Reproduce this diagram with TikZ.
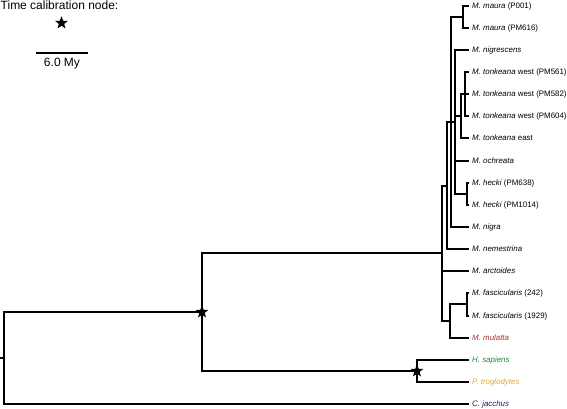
\documentclass[tikz,border=0pt]{standalone}
\usepackage{fontspec}
\setmainfont{Liberation Sans}
\usetikzlibrary{shapes.geometric}
\definecolor{mulattacol}{HTML}{A83232}
\definecolor{sapcol}{HTML}{1E8B3A}
\definecolor{trogcol}{HTML}{E8A82A}
\definecolor{jaccol}{HTML}{1C1C5C}
\begin{document}
\begin{tikzpicture}[x=1pt,y=-1pt,
  br/.style={line width=1.9pt, line join=miter},
  lbl/.style={anchor=west, inner sep=0pt, xshift=3pt, font=\fontsize{7.9}{9}\selectfont},
  big/.style={inner sep=0pt, font=\fontsize{12}{14}\selectfont},
  calstar/.style={star, star points=5, star point ratio=2.4, fill=black, draw=none, inner sep=0pt, minimum size=13.5pt}]
\useasboundingbox (0,0) rectangle (567,408);
% legend
\node[big, anchor=base west] (title) at (0.5,9.3) {Time calibration node:};
\node[calstar] (legstar) at (61.5,23) {};
\coordinate (sbL) at (36,53);
\coordinate (sbR) at (88,53);
\draw[line width=1.8pt] (sbL) -- (sbR);
\node[big, anchor=base] (sblab) at (62,66.7) {6.0 My};
% leaves
\coordinate (l0) at (469,6);
\coordinate (l1) at (469,28);
\coordinate (l2) at (469,50);
\coordinate (l3) at (469,72);
\coordinate (l4) at (469,94);
\coordinate (l5) at (469,116);
\coordinate (l6) at (469,138);
\coordinate (l7) at (469,161);
\coordinate (l8) at (469,183);
\coordinate (l9) at (469,205);
\coordinate (l10) at (469,227);
\coordinate (l11) at (469,249);
\coordinate (l12) at (469,271);
\coordinate (l13) at (469,293);
\coordinate (l14) at (469,316);
\coordinate (l15) at (469,338);
\coordinate (l16) at (469,360);
\coordinate (l17) at (469,382);
\coordinate (l18) at (469,404);
% internal nodes
\coordinate (maura) at (463,17);
\coordinate (tonkW) at (465,94);
\coordinate (tonk) at (461,116);
\coordinate (hecki) at (467,194);
\coordinate (D) at (455,122);
\coordinate (B) at (451,122);
\coordinate (A) at (447,186);
\coordinate (fasc) at (467,304);
\coordinate (FM) at (450,321);
\coordinate (M) at (442,253);
\coordinate (P) at (417,371);
\coordinate (S) at (202,312);
\coordinate (R) at (4,358);
\coordinate (stub) at (0,358);
% branches
\draw[br] (stub) -- (R);
\draw[br] (R) |- (S);
\draw[br] (R) |- (l18);
\draw[br] (S) |- (M);
\draw[br] (S) |- (P);
\draw[br] (P) |- (l16);
\draw[br] (P) |- (l17);
\draw[br] (M) |- (A);
\draw[br] (M) |- (l12);
\draw[br] (M) |- (FM);
\draw[br] (FM) |- (fasc);
\draw[br] (FM) |- (l15);
\draw[br] (fasc) |- (l13);
\draw[br] (fasc) |- (l14);
\draw[br] (A) |- (B);
\draw[br] (A) |- (l11);
\draw[br] (B) |- (maura);
\draw[br] (B) |- (D);
\draw[br] (B) |- (l10);
\draw[br] (maura) |- (l0);
\draw[br] (maura) |- (l1);
\draw[br] (D) |- (l2);
\draw[br] (D) |- (tonk);
\draw[br] (D) |- (l7);
\draw[br] (D) |- (hecki);
\draw[br] (tonk) |- (tonkW);
\draw[br] (tonk) |- (l6);
\draw[br] (tonkW) |- (l3);
\draw[br] (tonkW) |- (l4);
\draw[br] (tonkW) |- (l5);
\draw[br] (hecki) |- (l8);
\draw[br] (hecki) |- (l9);
% calibration stars
\node[calstar] (starS) at (S) {};
\node[calstar] (starP) at (P) {};
% labels
\node[lbl] (t0) at (l0) {\textit{M. maura} (P001)};
\node[lbl] (t1) at (l1) {\textit{M. maura} (PM616)};
\node[lbl] (t2) at (l2) {\textit{M. nigrescens}};
\node[lbl] (t3) at (l3) {\textit{M. tonkeana} west (PM561)};
\node[lbl] (t4) at (l4) {\textit{M. tonkeana} west (PM582)};
\node[lbl] (t5) at (l5) {\textit{M. tonkeana} west (PM604)};
\node[lbl] (t6) at (l6) {\textit{M. tonkeana} east};
\node[lbl] (t7) at (l7) {\textit{M. ochreata}};
\node[lbl] (t8) at (l8) {\textit{M. hecki} (PM638)};
\node[lbl] (t9) at (l9) {\textit{M. hecki} (PM1014)};
\node[lbl] (t10) at (l10) {\textit{M. nigra}};
\node[lbl] (t11) at (l11) {\textit{M. nemestrina}};
\node[lbl] (t12) at (l12) {\textit{M. arctoides}};
\node[lbl] (t13) at (l13) {\textit{M. fascicularis} (242)};
\node[lbl] (t14) at (l14) {\textit{M. fascicularis} (1929)};
\node[lbl, text=mulattacol] (t15) at (l15) {\textit{M. mulatta}};
\node[lbl, text=sapcol] (t16) at (l16) {\textit{H. sapiens}};
\node[lbl, text=trogcol] (t17) at (l17) {\textit{P. troglodytes}};
\node[lbl, text=jaccol] (t18) at (l18) {\textit{C. jacchus}};
\end{tikzpicture}
\end{document}
